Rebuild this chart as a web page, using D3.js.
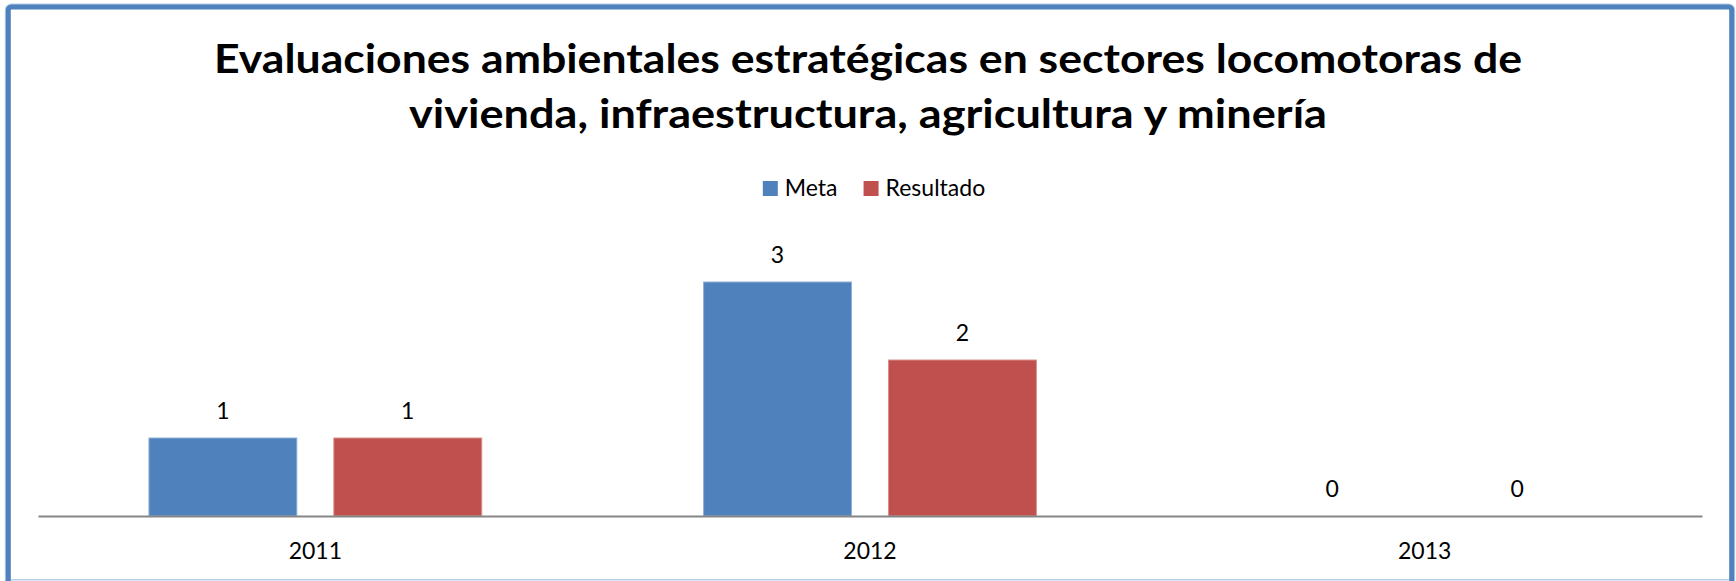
<!DOCTYPE html>
<html>
<head>
<meta charset="utf-8">
<script src="https://cdn.jsdelivr.net/npm/d3@7"></script>
<style>
  body { margin: 0; background: #fff; }
  svg { display: block; font-family: Lato, 'Open Sans', sans-serif; }
</style>
</head>
<body>
<svg></svg>
<script>

var years = ['2011', '2012', '2013'];
var series = ['Meta', 'Resultado'];
var meta = [1, 3, 0];
var resultado = [1, 2, 0];
var colors = ['#4F81BD', '#C0504D'];
var edgeColors = ['#8FB0DA', '#D9908E'];
var titleLines = ['Evaluaciones ambientales estratégicas en sectores locomotoras de',
                  'vivienda, infraestructura, agricultura y minería'];

var width = 1736, height = 581;
var xax = 516;

var svg = d3.select('svg').attr('width', width).attr('height', height);

// frame
svg.append('rect')
   .attr('x', 8.3).attr('y', 7).attr('width', 1723.4).attr('height', 580)
   .attr('rx', 3)
   .attr('fill', 'none').attr('stroke', '#B9CDE5').attr('stroke-width', 7);
svg.append('rect')
   .attr('x', 8.3).attr('y', 7).attr('width', 1723.4).attr('height', 580)
   .attr('rx', 3)
   .attr('fill', '#fff').attr('stroke', '#4F81BD').attr('stroke-width', 5);
svg.append('line')
   .attr('x1', 11).attr('x2', 1729).attr('y1', 579.8).attr('y2', 579.8)
   .attr('stroke', '#B9CDE5').attr('stroke-width', 1.6);

// title
var titleWidths = [1308, 918];
svg.append('g').selectAll('text')
   .data(titleLines)
   .join('text')
     .attr('x', 868)
     .attr('y', (d, i) => 73 + i * 55)
     .attr('text-anchor', 'middle')
     .attr('font-size', 41)
     .attr('font-weight', 'bold')
     .attr('fill', '#000')
     .attr('textLength', (d, i) => titleWidths[i])
     .attr('lengthAdjust', 'spacingAndGlyphs')
     .text(d => d);

// scales
var x = d3.scaleBand().domain(years).range([38, 1702]);
var xgroupScale = d3.scaleBand()
  .domain(series)
  .range([0, x.bandwidth()])
  .paddingInner(0.2)
  .paddingOuter(0.6);
var y = d3.scaleLinear().domain([0, 3.5]).range([xax, 243]);
var color = d3.scaleOrdinal().domain(series).range(colors);
var edge = d3.scaleOrdinal().domain(series).range(edgeColors);

var rows = years.map((yr, i) => ({year: yr, vals: [
  {key: 'Meta', value: meta[i]},
  {key: 'Resultado', value: resultado[i]}
]}));

var groups = svg.append('g')
  .selectAll('g')
  .data(rows)
  .join('g')
    .attr('transform', d => `translate(${x(d.year)},0)`);

groups.selectAll('rect')
  .data(d => d.vals)
  .join('rect')
    .attr('x', d => xgroupScale(d.key))
    .attr('y', d => y(d.value))
    .attr('width', xgroupScale.bandwidth())
    .attr('height', d => xax - y(d.value))
    .attr('fill', d => color(d.key))
    .attr('stroke', d => d.value > 0 ? edge(d.key) : 'none')
    .attr('stroke-width', 1);

groups.selectAll('text')
  .data(d => d.vals)
  .join('text')
    .attr('x', d => xgroupScale(d.key) + xgroupScale.bandwidth() / 2)
    .attr('y', d => y(d.value) - 19)
    .attr('text-anchor', 'middle')
    .attr('font-size', 23)
    .attr('fill', '#000')
    .text(d => d.value);

// x axis
var xAxis = svg.append('g')
  .attr('transform', 'translate(0,' + xax + ')')
  .call(d3.axisBottom(x).tickSize(0).tickSizeOuter(0).tickPadding(27));
xAxis.select('.domain').attr('stroke', '#868686').attr('stroke-width', 2);
xAxis.selectAll('text')
  .attr('font-size', 23)
  .attr('font-family', "Lato, 'Open Sans', sans-serif")
  .attr('fill', '#000');

// legend
var legend = svg.append('g');
var items = legend.selectAll('g')
  .data(series)
  .join('g');
items.append('rect')
  .attr('width', 15).attr('height', 15)
  .attr('y', 181)
  .attr('fill', d => color(d));
items.append('text')
  .attr('x', 22)
  .attr('y', 196)
  .attr('font-size', 23)
  .attr('fill', '#000')
  .text(d => d);

var pos = 0;
items.each(function(d) {
  var w = d3.select(this).select('text').node().getComputedTextLength();
  d3.select(this).attr('transform', 'translate(' + pos + ',0)');
  pos += 22 + w + 26;
});
var total = pos - 26;
legend.attr('transform', 'translate(' + (874 - total / 2) + ',0)');

</script>
</body>
</html>
